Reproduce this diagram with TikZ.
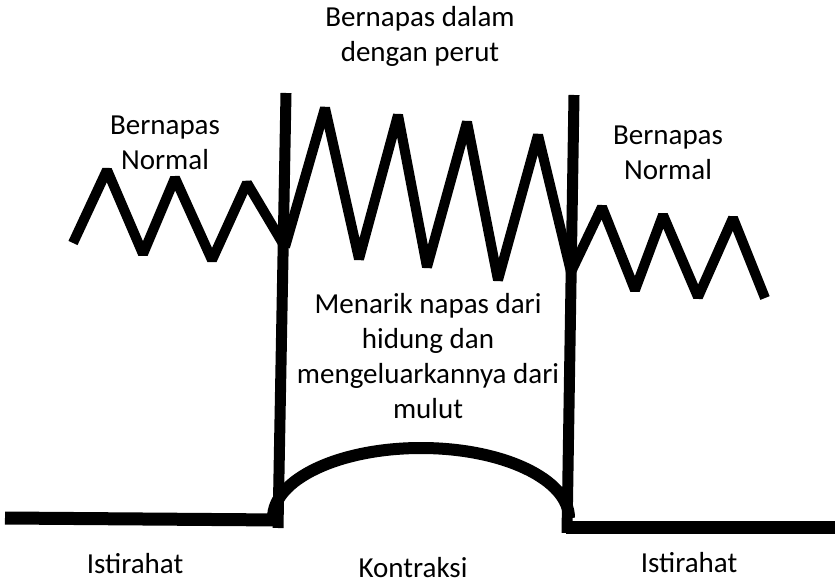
\documentclass[tikz,border=0pt]{standalone}
\usepackage{fontspec}
\setmainfont{Carlito}
\usetikzlibrary{positioning}

\begin{document}
\begin{tikzpicture}[x=1pt, y=-1pt,
    lbl/.style={font=\fontsize{29}{35}\selectfont, align=center, anchor=base, inner sep=0pt},
    wave/.style={line width=10pt, line join=bevel},
    wall/.style={line width=11pt},
    rest/.style={line width=13pt},
    dome/.style={line width=12pt}
  ]
  \useasboundingbox (0,0) rectangle (835,585);

  % --- garis dasar (istirahat) ---
  \draw[rest] (5,518) -- (281,520);
  \draw[rest] (566,527) -- (835,527);

  % --- kontraksi ---
  \draw[dome] (273,518) arc[start angle=180, end angle=360, x radius=148, y radius=70];
  \draw[wall] (286,93) -- (278,528);
  \draw[wall] (574,95) -- (567,533);

  % --- pola napas ---
  \draw[wave] (73,243) -- (107,170) -- (143,254) -- (175,178) -- (212,260)
    -- (247,183) -- (285,247);
  \draw[wave] (285,247) -- (325,108) -- (359,259) -- (398,115) -- (427,267)
    -- (467,122) -- (498,280) -- (538,135) -- (571,272);
  \draw[wave] (571,272) -- (602,207) -- (635,290) -- (663,215) -- (698,297)
    -- (733,218) -- (765,298);

  % --- keterangan (base = baris terakhir) ---
  \node[lbl] (dalam) at (420,62) {Bernapas dalam\\dengan perut};
  \node[lbl] (normal1) at (165,170) {Bernapas\\Normal};
  \node[lbl] (normal2) at (668,180) {Bernapas\\Normal};
  \node[lbl] (hidung) at (428,418) {Menarik napas dari\\hidung dan\\mengeluarkannya dari\\mulut};
  \node[lbl] (rest1) at (135,573) {Istirahat};
  \node[lbl] (kontraksi) at (413,577) {Kontraksi};
  \node[lbl] (rest2) at (689,572) {Istirahat};
\end{tikzpicture}
\end{document}
